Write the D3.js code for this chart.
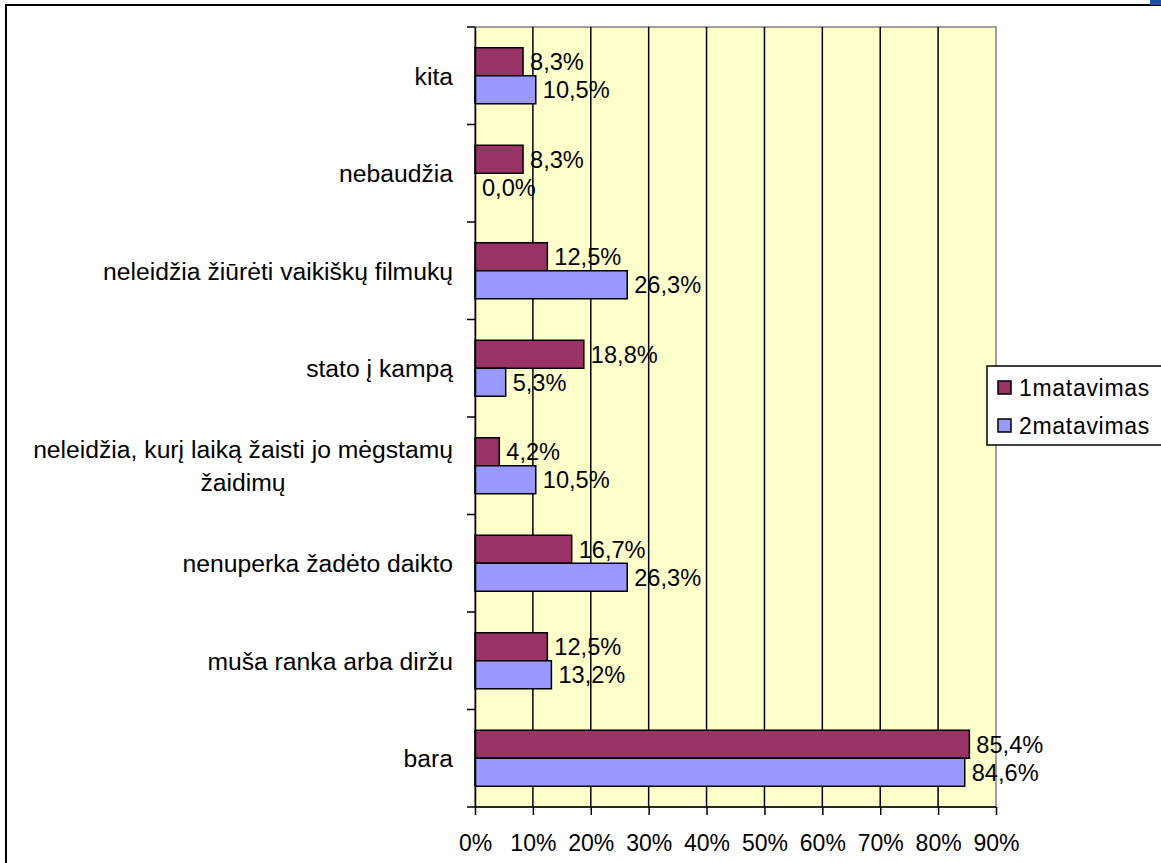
<!DOCTYPE html>
<html>
<head>
<meta charset="utf-8">
<script src="https://cdn.jsdelivr.net/npm/d3@7"></script>
<style>
  body { margin: 0; background: #fff; }
  text { font-family: "Liberation Sans", Arial, sans-serif; fill: #000; }
</style>
</head>
<body>
<div id="chart"></div>
<script>
// chart data
var categories = ["kita", "nebaudžia", "neleidžia žiūrėti vaikiškų filmukų", "stato į kampą",
  "neleidžia, kurį laiką žaisti jo mėgstamų žaidimų", "nenuperka žadėto daikto",
  "muša ranka arba diržu", "bara"];
var seriesNames = ["1matavimas", "2matavimas"];
var matavimas1 = [8.3, 8.3, 12.5, 18.8, 4.2, 16.7, 12.5, 85.4];
var matavimas2 = [10.5, 0.0, 26.3, 5.3, 10.5, 26.3, 13.2, 84.6];
var xTicks = [0, 10, 20, 30, 40, 50, 60, 70, 80, 90];

var colors = ["#993366", "#9999FF"];

var svgWidth = 1161;
var svgHeight = 863;

var plot = { left: 475, right: 996, top: 27, bottom: 807 };

var svg = d3.select("#chart")
  .append("svg")
  .attr("width", svgWidth)
  .attr("height", svgHeight);

// outer chart border
svg.append("rect")
  .attr("x", 6).attr("y", 5)
  .attr("width", 1200).attr("height", 900)
  .attr("fill", "#fff")
  .attr("stroke", "#000")
  .attr("stroke-width", 2);

// small blue corner
svg.append("rect")
  .attr("x", 1150).attr("y", 0)
  .attr("width", 11).attr("height", 5)
  .attr("fill", "#1f4fa0");

// scales
var x = d3.scaleLinear().domain([0, 90]).range([plot.left, plot.right]);
var y = d3.scaleBand().domain(categories).range([plot.top, plot.bottom]);

// plot background
svg.append("rect")
  .attr("x", plot.left).attr("y", plot.top)
  .attr("width", plot.right - plot.left).attr("height", plot.bottom - plot.top)
  .attr("fill", "#FFFFCC")
  .attr("stroke", "#808080")
  .attr("stroke-width", 1.5);

// gridlines
svg.append("g")
  .selectAll("line")
  .data(xTicks.filter(d => d > 0 && d < 90))
  .enter().append("line")
  .attr("x1", d => x(d)).attr("x2", d => x(d))
  .attr("y1", plot.top).attr("y2", plot.bottom)
  .attr("stroke", "#000")
  .attr("stroke-width", 1.5);

// bars
var bandH = y.bandwidth();
var barH = 28;
var series = [matavimas1, matavimas2];

series.forEach(function(values, s) {
  var g = svg.append("g");
  g.selectAll("rect")
    .data(values)
    .enter().append("rect")
    .attr("x", x(0))
    .attr("y", (d, i) => y(categories[i]) + bandH / 2 - barH + s * barH)
    .attr("width", d => x(d) - x(0))
    .attr("height", barH)
    .attr("fill", colors[s])
    .attr("stroke", d => d > 0 ? "#000" : "none")
    .attr("stroke-width", 1.5);

  // value labels
  g.selectAll("text")
    .data(values)
    .enter().append("text")
    .attr("x", d => x(d) + 7)
    .attr("y", (d, i) => y(categories[i]) + bandH / 2 - barH / 2 + s * barH)
    .attr("dy", "0.36em")
    .style("font-size", "23.6px")
    .text(d => d3.format(".1f")(d).replace(".", ",") + "%");
});

// left axis
var leftAxis = d3.axisLeft(y).tickSize(0).tickFormat("");
svg.append("g")
  .attr("transform", "translate(" + plot.left + ",0)")
  .call(leftAxis)
  .call(g => g.select(".domain").attr("stroke", "#000").attr("stroke-width", 1.5));

// left ticks at band boundaries
svg.append("g")
  .selectAll("line")
  .data(categories.concat(["end"]))
  .enter().append("line")
  .attr("x1", plot.left - 8).attr("x2", plot.left)
  .attr("y1", (d, i) => plot.top + i * bandH)
  .attr("y2", (d, i) => plot.top + i * bandH)
  .attr("stroke", "#000")
  .attr("stroke-width", 1.5);

// category labels (wrapped when too long)
var catLabels = svg.append("g")
  .selectAll("text")
  .data(categories)
  .enter().append("text")
  .attr("text-anchor", "middle")
  .style("font-size", "24.7px");

catLabels.each(function(d) {
  var t = d3.select(this);
  var words = d.split(" ");
  var lines = [];
  var line = [];
  words.forEach(function(w) {
    line.push(w);
    t.text(line.join(" "));
    if (t.node().getComputedTextLength() > 440 && line.length > 1) {
      line.pop();
      lines.push(line.join(" "));
      line = [w];
    }
  });
  lines.push(line.join(" "));
  // measure widest line to right align the block
  var widths = lines.map(function(l) {
    t.text(l);
    return t.node().getComputedTextLength();
  });
  t.text(null);
  var maxW = d3.max(widths);
  var cx = 453 - maxW / 2;
  var lineH = 33;
  var cy = y(d) + bandH / 2 - (lines.length - 1) * lineH / 2;
  lines.forEach(function(l, i) {
    t.append("tspan")
      .attr("x", cx)
      .attr("y", cy + i * lineH)
      .attr("dy", "0.36em")
      .text(l);
  });
});

// bottom axis
var bottomAxis = d3.axisBottom(x)
  .tickValues(xTicks)
  .tickSize(8)
  .tickPadding(20)
  .tickFormat(d => d + "%");

svg.append("g")
  .attr("transform", "translate(0," + plot.bottom + ")")
  .call(bottomAxis)
  .call(g => g.select(".domain").remove())
  .call(g => g.selectAll(".tick line").attr("stroke", "#000").attr("stroke-width", 1.5))
  .call(g => g.selectAll(".tick text")
    .attr("fill", "#000")
    .style("font-size", "23px")
    .style("font-family", "'Liberation Sans', Arial, sans-serif"));

svg.append("line")
  .attr("x1", plot.left).attr("x2", plot.right)
  .attr("y1", plot.bottom).attr("y2", plot.bottom)
  .attr("stroke", "#000")
  .attr("stroke-width", 1.5);

// legend
var legend = svg.append("g");
legend.append("rect")
  .attr("x", 987).attr("y", 366)
  .attr("width", 200).attr("height", 79)
  .attr("fill", "#fff")
  .attr("stroke", "#000")
  .attr("stroke-width", 1.5);

seriesNames.forEach(function(name, i) {
  legend.append("rect")
    .attr("x", 998).attr("y", 381 + i * 38)
    .attr("width", 13).attr("height", 13)
    .attr("fill", colors[i])
    .attr("stroke", "#000")
    .attr("stroke-width", 1.5);
  legend.append("text")
    .attr("x", 1019).attr("y", 387.5 + i * 38)
    .attr("dy", "0.36em")
    .style("font-size", "23px")
    .style("letter-spacing", "0.7px")
    .text(name);
});
</script>
</body>
</html>
